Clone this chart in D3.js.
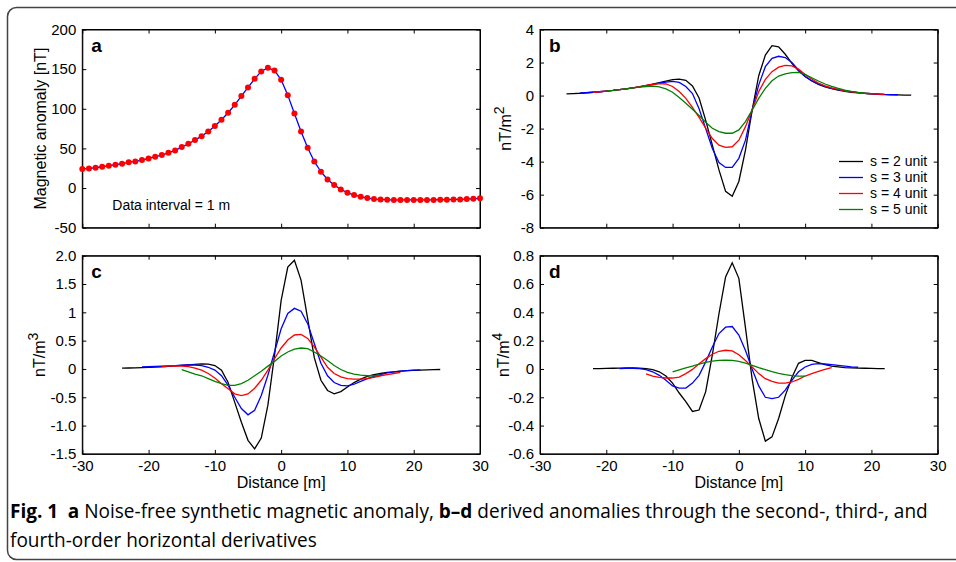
<!DOCTYPE html>
<html>
<head>
<meta charset="utf-8">
<script src="https://cdn.jsdelivr.net/npm/d3@7"></script>
<style>
  body { margin: 0; background: #fff; overflow: hidden; }
  text { font-family: "Liberation Sans", Arial, sans-serif; fill: #000; }
</style>
</head>
<body>
<script>
// distances [m]
const xTicks = [-30, -20, -10, 0, 10, 20, 30];

// (a) synthetic anomaly, -30..30 m, 1 m step
const anomaly = [24.0, 24.8, 25.6, 26.9, 28.2, 29.4, 30.7, 32.4, 33.6, 35.3,
  37.4, 39.5, 41.6, 44.5, 47.5, 51.7, 55.9, 60.5, 65.5, 71.4,
  78.2, 86.1, 95.0, 105.0, 116.0, 126.9, 137.8, 147.1, 151.7, 148.3,
  136.6, 117.2, 94.1, 71.4, 50.8, 33.6, 20.6, 10.9, 3.8, -1.7,
  -5.9, -8.8, -10.9, -12.6, -13.9, -14.3, -14.7, -15.1, -15.0, -15.0,
  -15.0, -15.0, -15.0, -15.0, -14.7, -14.7, -14.3, -14.3, -13.9, -13.5, -13.0];

// (b) second derivative, s = 2..5
const b2 = [0.10, 0.12, 0.14, 0.17, 0.20, 0.23, 0.27, 0.31, 0.36, 0.41, 0.47, 0.53, 0.60, 0.69, 0.78, 0.88, 0.96, 0.99, 0.92, 0.58,
  -0.15, -1.5, -3.0, -4.5, -5.8, -6.1, -5.2, -3.3, -0.9, 1.2, 2.45, 3.02, 2.95, 2.5, 1.95, 1.5, 1.15, 0.88, 0.68, 0.53,
  0.42, 0.33, 0.26, 0.2, 0.16, 0.13, 0.1, 0.08, 0.06, 0.05, 0.04, 0.03, 0.03];
const b3 = [0.14, 0.17, 0.20, 0.23, 0.27, 0.31, 0.36, 0.41, 0.47, 0.53, 0.60, 0.67, 0.75, 0.82, 0.86, 0.8, 0.55, 0.12,
  -0.8, -2.0, -3.2, -4.05, -4.35, -4.35, -3.8, -2.7, -0.9, 0.65, 1.75, 2.25, 2.38, 2.3, 2.0, 1.55, 1.15, 0.9, 0.7, 0.55,
  0.44, 0.35, 0.28, 0.22, 0.18, 0.14, 0.11, 0.09, 0.07, 0.06, 0.05];
const b4 = [0.20, 0.23, 0.27, 0.31, 0.36, 0.41, 0.47, 0.54, 0.61, 0.67, 0.72, 0.7, 0.55, 0.24, -0.17, -0.71, -1.32, -1.98,
  -2.6, -3.0, -3.14, -3.1, -2.7, -1.88, -0.88, 0.24, 0.98, 1.45, 1.72, 1.83, 1.8, 1.6, 1.28, 1.0, 0.76, 0.59, 0.46, 0.37,
  0.29, 0.23, 0.18, 0.14, 0.11, 0.09, 0.07];
const b5 = [0.27, 0.31, 0.36, 0.41, 0.46, 0.51, 0.55, 0.57, 0.53, 0.4, 0.2, -0.12, -0.47, -0.83, -1.21, -1.62, -1.98,
  -2.18, -2.28, -2.28, -2.08, -1.58, -0.88, -0.17, 0.44, 0.9, 1.18, 1.32, 1.39, 1.4, 1.28, 1.08, 0.88, 0.7, 0.55, 0.43,
  0.33, 0.25, 0.19, 0.14, 0.1];

// (c) third derivative
const c2 = [0.015, 0.017, 0.02, 0.024, 0.028, 0.033, 0.038, 0.045, 0.053, 0.062, 0.072, 0.082, 0.088, 0.085, 0.06, -0.02,
  -0.24, -0.59, -0.94, -1.26, -1.41, -1.22, -0.64, 0.24, 1.21, 1.8, 1.92, 1.57, 0.89, 0.2, -0.2, -0.38, -0.44, -0.4,
  -0.32, -0.24, -0.18, -0.13, -0.1, -0.08, -0.06, -0.05, -0.04, -0.03, -0.025, -0.02, -0.015, -0.012, -0.01];
const c3 = [0.035, 0.04, 0.045, 0.05, 0.055, 0.06, 0.068, 0.072, 0.07, 0.06, 0.03, -0.02, -0.12, -0.29, -0.5, -0.7, -0.81,
  -0.73, -0.47, -0.11, 0.3, 0.71, 0.98, 1.07, 1.02, 0.8, 0.45, 0.1, -0.12, -0.24, -0.29, -0.3, -0.27, -0.22, -0.17,
  -0.13, -0.1, -0.07, -0.05, -0.04, -0.03, -0.02, -0.015];
const c4 = [0.045, 0.05, 0.052, 0.05, 0.04, 0.015, -0.02, -0.08, -0.16, -0.26, -0.35, -0.44, -0.47, -0.44, -0.34, -0.2,
  -0.02, 0.18, 0.37, 0.51, 0.6, 0.61, 0.54, 0.39, 0.21, 0.03, -0.08, -0.14, -0.17, -0.18, -0.18, -0.17, -0.15, -0.12,
  -0.1, -0.08, -0.06];
const c5 = [-0.01, -0.05, -0.09, -0.12, -0.17, -0.22, -0.26, -0.29, -0.29, -0.26, -0.2, -0.12, -0.04, 0.05, 0.13, 0.23,
  0.3, 0.35, 0.37, 0.36, 0.3, 0.23, 0.15, 0.06, -0.01, -0.06, -0.09, -0.11, -0.12, -0.12, -0.11];

// (d) fourth derivative
const d2 = [0.003, 0.003, 0.004, 0.005, 0.006, 0.007, 0.007, 0.006, 0.003, -0.005, -0.02, -0.05, -0.1, -0.17, -0.23,
  -0.3, -0.29, -0.16, 0.1, 0.39, 0.65, 0.75, 0.64, 0.29, -0.07, -0.35, -0.51, -0.48, -0.35, -0.19, -0.06, 0.04, 0.06,
  0.06, 0.045, 0.03, 0.02, 0.015, 0.01, 0.008, 0.006, 0.005, 0.004, 0.003, 0.003];
const d3s = [0.003, 0.004, 0.005, 0.003, -0.005, -0.02, -0.045, -0.08, -0.12, -0.135, -0.135, -0.1, -0.045, 0.05, 0.155,
  0.25, 0.295, 0.3, 0.24, 0.13, 0.0, -0.12, -0.2, -0.21, -0.2, -0.15, -0.08, -0.02, 0.014, 0.033, 0.037, 0.035, 0.03,
  0.025, 0.02, 0.015, 0.012];
const d4 = [-0.035, -0.05, -0.06, -0.064, -0.064, -0.057, -0.033, -0.003, 0.037, 0.073, 0.104, 0.125, 0.132, 0.127, 0.1,
  0.06, 0.014, -0.033, -0.069, -0.088, -0.1, -0.1, -0.092, -0.073, -0.05, -0.033, -0.017, -0.003, 0.009];
const d5 = [-0.021, -0.007, 0.007, 0.02, 0.035, 0.047, 0.056, 0.061, 0.063, 0.061, 0.054, 0.042, 0.026, 0.009, -0.005,
  -0.019, -0.031, -0.04, -0.047, -0.05, -0.05];

const seriesNames = ["s = 2 unit", "s = 3 unit", "s = 4 unit", "s = 5 unit"];
const seriesColors = ["#000000", "#0000ff", "#ff0000", "#008000"];

const svg = d3.select("body").append("svg")
  .attr("width", 956).attr("height", 562);

// outer frame (runs off the right edge)
svg.append("rect")
  .attr("x", 7.5).attr("y", 7.5)
  .attr("width", 1010).attr("height", 552)
  .attr("rx", 9)
  .attr("fill", "none")
  .attr("stroke", "#444")
  .attr("stroke-width", 1.5);

// centred series: values run from -half to +half
function centred(vals) {
  const half = (vals.length - 1) / 2;
  return vals.map((v, i) => ({ x: i - half, y: v }));
}

function panel(o) {
  const g = svg.append("g").attr("transform", `translate(${o.left},${o.top})`);
  const w = o.width, h = o.height;
  const x = d3.scaleLinear().domain([-30, 30]).range([0, w]);
  const y = d3.scaleLinear().domain(o.yDomain).range([h, 0]);

  const xb = d3.axisBottom(x).tickValues(xTicks).tickSize(-4).tickSizeOuter(0).tickPadding(6)
    .tickFormat(o.xLabels ? (d => String(d)) : "");
  const xt = d3.axisTop(x).tickValues(xTicks).tickSize(-4).tickSizeOuter(0).tickFormat("");
  const yl = d3.axisLeft(y).tickValues(o.yTicks).tickSize(-4).tickSizeOuter(0).tickPadding(6)
    .tickFormat((d, i) => o.yLabels[i]);
  const yr = d3.axisRight(y).tickValues(o.yTicks).tickSize(-4).tickSizeOuter(0).tickFormat("");

  g.append("g").attr("transform", `translate(0,${h})`).call(xb);
  g.append("g").call(xt);
  g.append("g").call(yl);
  g.append("g").attr("transform", `translate(${w},0)`).call(yr);

  g.selectAll(".tick text").style("font-family", '"Liberation Sans", Arial, sans-serif')
    .style("font-size", "15px").attr("fill", "#000");
  g.selectAll(".domain").attr("stroke", "#000");
  g.selectAll(".tick line").attr("stroke", "#000");

  const line = d3.line().x(d => x(d.x)).y(d => y(d.y));
  o.series.forEach((s, i) => {
    g.append("path")
      .attr("d", line(s))
      .attr("fill", "none")
      .attr("stroke", o.colors[i])
      .attr("stroke-width", 1.3);
  });

  g.append("rect").attr("width", w).attr("height", h)
    .attr("fill", "none").attr("stroke", "#000").attr("stroke-width", 1);

  g.append("text").attr("x", 9).attr("y", 22)
    .style("font-size", "19px").style("font-weight", "bold")
    .text(o.letter);

  // y label with optional superscript
  const lab = g.append("text")
    .attr("transform", `translate(${o.yLabelX},${h / 2}) rotate(-90)`)
    .attr("text-anchor", "middle")
    .style("font-size", "16px");
  lab.append("tspan").text(o.yLabel);
  if (o.yLabelSup) lab.append("tspan").attr("dy", -7).style("font-size", "14px").text(o.yLabelSup);

  if (o.xLabels) {
    g.append("text").attr("x", w / 2).attr("y", h + 34)
      .attr("text-anchor", "middle").style("font-size", "16px")
      .text("Distance [m]");
  }
  return { g, x, y };
}

const L = 82.3, R = 540, W = 397.7, H = 198.2, T1 = 29.5, T2 = 255.7;

// a
const pa = panel({
  left: L, top: T1, width: W, height: H, letter: "a",
  yDomain: [-50, 200], yTicks: [-50, 0, 50, 100, 150, 200],
  yLabels: ["-50", "0", "50", "100", "150", "200"],
  yLabel: "Magnetic anomaly [nT]", yLabelX: -36, xLabels: false,
  series: [anomaly.map((v, i) => ({ x: i - 30, y: v }))], colors: ["#0000ff"]
});
pa.g.selectAll("circle.pt")
  .data(anomaly.map((v, i) => ({ x: i - 30, y: v })))
  .enter().append("circle")
  .attr("cx", d => pa.x(d.x)).attr("cy", d => pa.y(d.y))
  .attr("r", 3).attr("fill", "#ff0000");
pa.g.append("text").attr("x", 30).attr("y", 180.5)
  .style("font-size", "14px").text("Data interval = 1 m");

// b
const pb = panel({
  left: R, top: T1, width: W, height: H, letter: "b",
  yDomain: [-8, 4], yTicks: [-8, -6, -4, -2, 0, 2, 4],
  yLabels: ["-8", "-6", "-4", "-2", "0", "2", "4"],
  yLabel: "nT/m", yLabelSup: "2", yLabelX: -29, xLabels: false,
  series: [b2, b3, b4, b5].map(centred), colors: seriesColors
});
const leg = pb.g.append("g").attr("transform", "translate(299,132)");
seriesNames.forEach((n, i) => {
  leg.append("line").attr("x1", 0).attr("x2", 24).attr("y1", i * 16).attr("y2", i * 16)
    .attr("stroke", seriesColors[i]).attr("stroke-width", 1.3);
  leg.append("text").attr("x", 31).attr("y", i * 16).attr("dy", "0.35em")
    .style("font-size", "14px").text(n);
});

// c
panel({
  left: L, top: T2, width: W, height: H, letter: "c",
  yDomain: [-1.5, 2], yTicks: [-1.5, -1, -0.5, 0, 0.5, 1, 1.5, 2],
  yLabels: ["-1.5", "-1.0", "-0.5", "0", "0.5", "1", "1.5", "2.0"],
  yLabel: "nT/m", yLabelSup: "3", yLabelX: -37, xLabels: true,
  series: [c2, c3, c4, c5].map(centred), colors: seriesColors
});

// d
panel({
  left: R, top: T2, width: W, height: H, letter: "d",
  yDomain: [-0.6, 0.8], yTicks: [-0.6, -0.4, -0.2, 0, 0.2, 0.4, 0.6, 0.8],
  yLabels: ["-0.6", "-0.4", "-0.2", "0", "0.2", "0.4", "0.6", "0.8"],
  yLabel: "nT/m", yLabelSup: "4", yLabelX: -31, xLabels: true,
  series: [d2, d3s, d4, d5].map(centred), colors: seriesColors
});

// caption: condensed look by squeezing a regular face horizontally
const capFont = '"Open Sans", "Noto Sans", sans-serif';
const cap1 = svg.append("text")
  .style("font-family", capFont).style("font-size", "20px").attr("fill", "#222");
cap1.append("tspan").style("font-weight", "bold").text("Fig. 1");
cap1.append("tspan").text("\u2002");
cap1.append("tspan").style("font-weight", "bold").text("a");
cap1.append("tspan").text(" Noise-free synthetic magnetic anomaly, ");
cap1.append("tspan").style("font-weight", "bold").text("b\u2013d");
cap1.append("tspan").text(" derived anomalies through the second-, third-, and");
const cap2 = svg.append("text")
  .style("font-family", capFont).style("font-size", "20px").attr("fill", "#222")
  .text("fourth-order horizontal derivatives");

const sx = 918 / cap1.node().getComputedTextLength();
cap1.attr("transform", `translate(10,518) scale(${sx},1)`);
cap2.attr("transform", `translate(10,547) scale(${sx},1)`);
</script>
</body>
</html>
